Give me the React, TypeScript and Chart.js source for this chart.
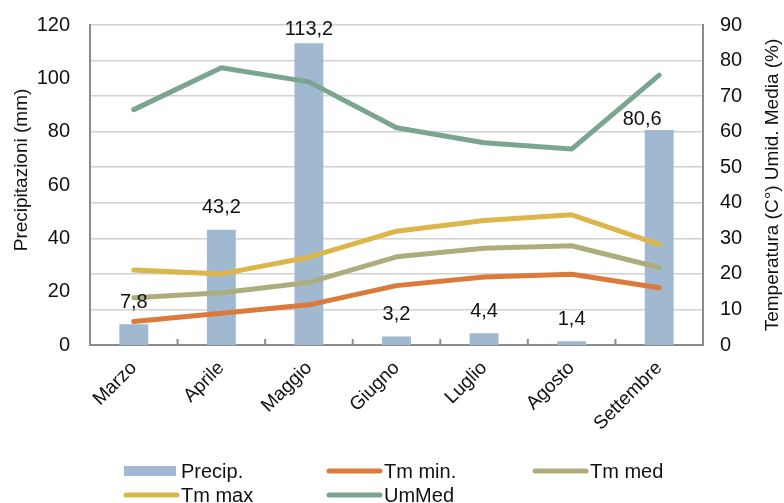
import React, { useEffect, useRef } from "react";
import { Chart, registerables } from "chart.js";

Chart.register(...registerables);

const categories = ["Marzo", "Aprile", "Maggio", "Giugno", "Luglio", "Agosto", "Settembre"];
const precip = [7.8, 43.2, 113.2, 3.2, 4.4, 1.4, 80.6];
const tmMin = [6.6, 8.9, 11.3, 16.7, 19.1, 19.9, 16.1];
const tmMed = [13.3, 14.7, 17.6, 24.8, 27.2, 27.9, 21.8];
const tmMax = [21.1, 20.0, 24.7, 32.0, 35.0, 36.6, 28.3];
const umMed = [66.2, 78.0, 74.0, 61.1, 56.9, 55.1, 75.9];
const leftTicks = [0, 20, 40, 60, 80, 100, 120];
const rightTicks = [0, 10, 20, 30, 40, 50, 60, 70, 80, 90];

const C_PRECIP = "#a0b9d0";
const C_MIN = "#dc7a3b";
const C_MED = "#abae7c";
const C_MAX = "#dcb54b";
const C_UM = "#7ba591";
const FONT = "'Liberation Sans', Arial, sans-serif";
const TXT = "#111";

const overlayPlugin = {
  id: "overlay",
  afterDatasetsDraw(chart: any) {
    const ctx = chart.ctx;
    const area = chart.chartArea;
    const meta = chart.getDatasetMeta(0);
    ctx.save();
    const xs = chart.scales.x;
    ctx.strokeStyle = "#8c8c8c";
    ctx.lineWidth = 2;
    for (let i = 0; i <= categories.length; i++) {
      const x = xs.left + (xs.width * i) / categories.length;
      ctx.beginPath();
      ctx.moveTo(x, area.bottom);
      ctx.lineTo(x, area.bottom - 6);
      ctx.stroke();
    }
    ctx.fillStyle = TXT;
    ctx.font = `20px ${FONT}`;
    ctx.textAlign = "center";
    ctx.textBaseline = "middle";
    meta.data.forEach((bar: any, i: number) => {
      const label = String(precip[i]).replace(".", ",");
      let dx = 0;
      let dy = -22;
      if (i === precip.length - 1) {
        dx = -17;
        dy = -11;
      }
      const y = Math.max(bar.y + dy, area.top + 4);
      ctx.fillText(label, bar.x + dx, y);
    });
    ctx.restore();
  },
  afterDraw(chart: any) {
    const ctx = chart.ctx;
    ctx.save();
    ctx.fillStyle = TXT;
    ctx.font = `19px ${FONT}`;
    ctx.textAlign = "center";
    ctx.textBaseline = "middle";
    ctx.save();
    ctx.translate(22, 170);
    ctx.rotate(-Math.PI / 2);
    ctx.fillText("Precipitazioni (mm)", 0, 0);
    ctx.restore();
    ctx.save();
    ctx.translate(773, 185);
    ctx.rotate(-Math.PI / 2);
    ctx.fillText("Temperatura (C°) Umid. Media (%)", 0, 0);
    ctx.restore();
    ctx.font = `20px ${FONT}`;
    ctx.textAlign = "left";
    const items = [
      { label: "Precip.", color: C_PRECIP, box: true, x: 124, y: 471 },
      { label: "Tm min.", color: C_MIN, box: false, x: 327, y: 471 },
      { label: "Tm med", color: C_MED, box: false, x: 533, y: 471 },
      { label: "Tm max", color: C_MAX, box: false, x: 124, y: 495 },
      { label: "UmMed", color: C_UM, box: false, x: 327, y: 495 },
    ];
    items.forEach((it) => {
      if (it.box) {
        ctx.fillStyle = it.color;
        ctx.fillRect(it.x, it.y - 5, 52, 10);
      } else {
        ctx.strokeStyle = it.color;
        ctx.lineWidth = 5;
        ctx.lineCap = "round";
        ctx.beginPath();
        ctx.moveTo(it.x + 2, it.y);
        ctx.lineTo(it.x + 53, it.y);
        ctx.stroke();
      }
      ctx.fillStyle = TXT;
      ctx.fillText(it.label, it.x + 57, it.y + 1);
    });
    ctx.restore();
  },
};

export default function App() {
  const ref = useRef<HTMLCanvasElement | null>(null);
  useEffect(() => {
    document.body.style.margin = "0";
    const canvas = ref.current!;
    const lineDs = (label: string, data: number[], color: string, order: number) => ({
      type: "line" as const,
      label,
      data,
      yAxisID: "y1",
      borderColor: color,
      backgroundColor: color,
      borderWidth: 5,
      pointRadius: 0,
      tension: 0,
      borderJoinStyle: "round" as const,
      borderCapStyle: "round" as const,
      order,
    });
    const chart = new Chart(canvas, {
      type: "bar",
      data: {
        labels: categories,
        datasets: [
          {
            type: "bar",
            label: "Precip.",
            data: precip,
            yAxisID: "y",
            backgroundColor: C_PRECIP,
            barPercentage: 0.33,
            categoryPercentage: 1,
            order: 10,
          },
          lineDs("Tm min.", tmMin, C_MIN, 4),
          lineDs("Tm med", tmMed, C_MED, 3),
          lineDs("Tm max", tmMax, C_MAX, 2),
          lineDs("UmMed", umMed, C_UM, 1),
        ] as any,
      },
      options: {
        responsive: false,
        maintainAspectRatio: false,
        animation: false,
        events: [],
        layout: { autoPadding: false, padding: { top: 25, bottom: 58, left: 0, right: 0 } },
        plugins: { legend: { display: false }, tooltip: { enabled: false } },
        scales: {
          x: {
            offset: true,
            grid: { display: false, drawOnChartArea: false },
            border: { display: true, color: "#8c8c8c", width: 2 },
            ticks: {
              color: TXT,
              font: { family: FONT, size: 19 },
              minRotation: 45,
              maxRotation: 45,
              padding: 4,
              autoSkip: false,
            },
            afterFit(scale: any) {
              scale.height = 100;
              scale.paddingLeft = 0;
              scale.paddingRight = 0;
            },
          },
          y: {
            position: "left",
            min: 0,
            max: 120,
            afterBuildTicks(scale: any) {
              scale.ticks = leftTicks.map((v) => ({ value: v }));
            },
            grid: { display: false, drawTicks: false },
            border: { display: true, color: "#8c8c8c", width: 2 },
            ticks: {
              color: TXT,
              font: { family: FONT, size: 20 },
              padding: 20,
            },
            afterFit(scale: any) {
              scale.width = 90;
              scale.paddingTop = 0;
              scale.paddingBottom = 0;
            },
          },
          y1: {
            position: "right",
            min: 0,
            max: 90,
            afterBuildTicks(scale: any) {
              scale.ticks = rightTicks.map((v) => ({ value: v }));
            },
            grid: { display: true, color: "#d2d2d2", lineWidth: 1.5, drawTicks: false },
            border: { display: true, color: "#8c8c8c", width: 2 },
            ticks: {
              color: TXT,
              font: { family: FONT, size: 20 },
              padding: 17,
            },
            afterFit(scale: any) {
              scale.width = 81;
              scale.paddingTop = 0;
              scale.paddingBottom = 0;
            },
          },
        },
      },
      plugins: [overlayPlugin],
    });
    return () => chart.destroy();
  }, []);
  return <canvas ref={ref} width={784} height={503} style={{ display: "block" }} />;
}
